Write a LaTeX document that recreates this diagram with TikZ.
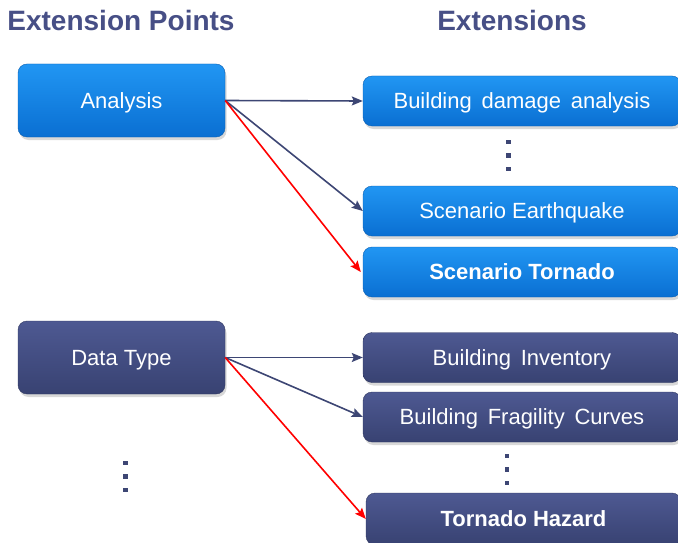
\documentclass[tikz,border=0pt]{standalone}
\usepackage{fontspec}
\setmainfont{Liberation Sans}
\usetikzlibrary{arrows.meta,shadows}
\definecolor{titlecol}{HTML}{474F86}
\definecolor{linecol}{HTML}{3D4674}
\definecolor{bluetop}{HTML}{2196F3}
\definecolor{bluemid}{HTML}{0D84EA}
\definecolor{bluebot}{HTML}{0A6FD2}
\definecolor{darktop}{HTML}{4E5992}
\definecolor{darkmid}{HTML}{444F88}
\definecolor{darkbot}{HTML}{384272}
\tikzset{
  x=1pt, y=-1pt,
  boxbase/.style={rounded corners=9pt, text=white, font=\fontsize{22}{25}\selectfont,
    inner sep=0pt, text height=15.8pt, text depth=0pt,
    drop shadow={opacity=0.3, shadow xshift=1.5pt, shadow yshift=-3pt}},
  bluebox/.style={boxbase, top color=bluetop, middle color=bluemid, bottom color=bluebot, draw=bluebot!85!black, line width=0.4pt},
  darkbox/.style={boxbase, top color=darktop, middle color=darkmid, bottom color=darkbot, draw=darkbot!85!black, line width=0.4pt},
  leftbox/.style={minimum width=207pt, minimum height=73pt},
  rightbox/.style={minimum width=318pt, minimum height=50pt},
  title/.style={text=titlecol, font=\fontsize{28}{32}\selectfont\bfseries, inner sep=0pt},
  conn/.style={draw=linecol, line width=1.6pt, -{Stealth[length=11pt,width=9pt,inset=2pt]}},
  redconn/.style={draw=red, line width=1.6pt, -{Stealth[length=11pt,width=9pt,inset=2pt]}},
  dotsq/.style={fill=linecol}
}
\newcommand{\vdotsq}[3]{%
  \fill[dotsq] (#1-2.3,#2-2.3) rectangle (#1+2.3,#2+2.3);
  \fill[dotsq] (#1-2.3,#2+#3-2.3) rectangle (#1+2.3,#2+#3+2.3);
  \fill[dotsq] (#1-2.3,#2+2*#3-2.3) rectangle (#1+2.3,#2+2*#3+2.3);}
\begin{document}
\begin{tikzpicture}
\useasboundingbox (0,0) rectangle (678,543);
\clip (0,0) rectangle (678,543);
\fill[white] (0,0) rectangle (678,543);

\node[title, anchor=center] (t1) at (121,20) {Extension Points};
\node[title, anchor=center] (t2) at (512,20) {Extensions};

\node[bluebox, leftbox] (analysis) at (121.5,100.5) {Analysis};
\node[darkbox, leftbox] (datatype) at (121.5,357.5) {Data Type};

\node[bluebox, rightbox] (bda) at (522,101) {Building\, damage\, analysis};
\node[bluebox, rightbox] (seq) at (522,211) {Scenario Earthquake};
\node[bluebox, rightbox] (stor) at (522,272) {\bfseries Scenario Tornado};

\node[darkbox, rightbox] (binv) at (522,357.5) {Building\, Inventory};
\node[darkbox, rightbox] (bfc) at (522,417) {Building\, Fragility\, Curves};
\node[darkbox, minimum width=315pt, minimum height=52pt] (thaz) at (523.5,519) {\bfseries Tornado Hazard};

\vdotsq{508.5}{142}{13.5}
\vdotsq{507}{456}{13.5}
\vdotsq{125.5}{463}{13.5}

\draw[conn] (analysis.east) -- (bda.west);
\draw[conn] (analysis.east) -- (seq.west);
\draw[redconn] (analysis.east) -- ([xshift=-2pt]stor.west);

\draw[conn] (datatype.east) -- (binv.west);
\draw[conn] (datatype.east) -- (bfc.west);
\draw[redconn] (datatype.east) -- (thaz.west);
\end{tikzpicture}
\end{document}
